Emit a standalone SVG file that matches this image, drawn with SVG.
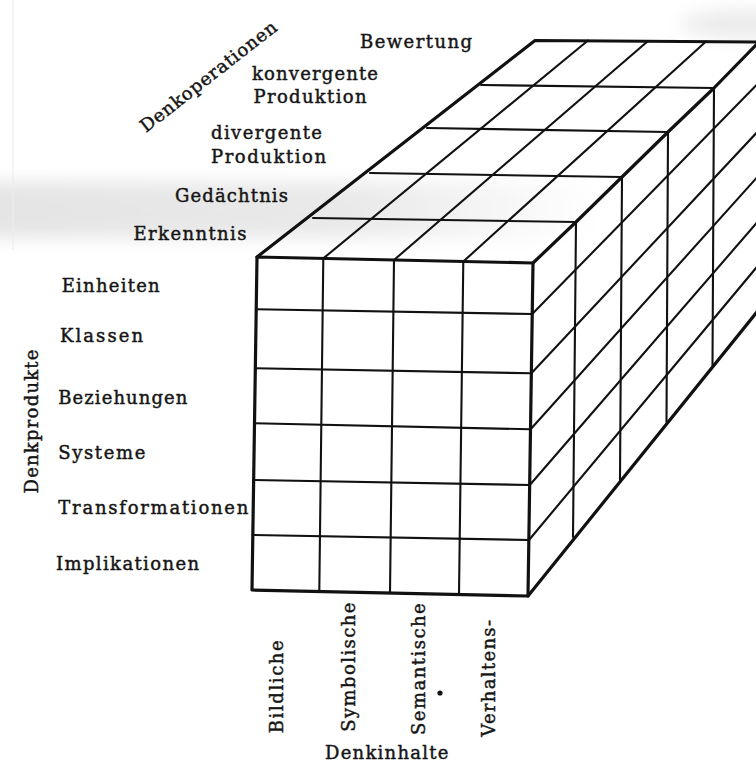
<svg xmlns="http://www.w3.org/2000/svg" width="756" height="765" viewBox="0 0 756 765">
  <defs>
    <filter id="soft" x="-50%" y="-50%" width="200%" height="200%">
      <feGaussianBlur stdDeviation="9"/>
    </filter>
    <linearGradient id="tone" x1="0" y1="0" x2="1" y2="0">
      <stop offset="0" stop-color="#e4e4e4"/>
      <stop offset="0.6" stop-color="#e9e9e9"/>
      <stop offset="1" stop-color="#ffffff"/>
    </linearGradient>
  </defs>
  <style>
    .edge{stroke:#111;stroke-width:3.2;fill:none;stroke-linecap:round;stroke-linejoin:round}
    .grid{stroke:#111;stroke-width:2.1;fill:none;stroke-linecap:round}
    .lbl{font-family:"DejaVu Serif","Liberation Serif",serif;font-size:18px;fill:#151515;stroke:#151515;stroke-width:0.45}
  </style>

  <rect width="756" height="765" fill="#fff"/>

  <!-- greyish paper tone -->
  <g id="paper-shading" filter="url(#soft)">
    <rect x="-20" y="182" width="620" height="56" fill="url(#tone)"/>
    <ellipse cx="750" cy="24" rx="70" ry="15" fill="#ebebeb"/>
  </g>
  <line x1="13" y1="0" x2="13" y2="250" stroke="#ededed" stroke-width="1.2"/>

  <!-- Guilford cube: grid lines -->
  <g id="connectors">
    <!-- front face: 6 product rows x 4 content columns -->
    <g id="front-face">
      <polygon class="edge" points="257,257 533,263 528,596 252,590"/>
      <line class="grid" x1="256.2" y1="309.3" x2="532.2" y2="314"/>
      <line class="grid" x1="255.3" y1="368.3" x2="531.4" y2="373.3"/>
      <line class="grid" x1="254.5" y1="423.3" x2="530.6" y2="429.3"/>
      <line class="grid" x1="253.7" y1="480" x2="529.8" y2="485"/>
      <line class="grid" x1="252.8" y1="535" x2="529" y2="540"/>
      <line class="grid" x1="323.3" y1="258.4" x2="319.3" y2="591.5"/>
      <line class="grid" x1="394" y1="260" x2="390" y2="593"/>
      <line class="grid" x1="463.3" y1="261.5" x2="459" y2="594.5"/>
    </g>

    <!-- top face: 5 operation rows in depth -->
    <g id="top-face">
      <polyline class="edge" points="257,257 535,40.5 759,42"/>
      <polyline class="edge" points="533,263 576,222 622,177 668,132 714,88 759,42"/>
      <line class="grid" x1="313" y1="218" x2="576" y2="222"/>
      <line class="grid" x1="370" y1="173" x2="622" y2="177"/>
      <line class="grid" x1="427" y1="128" x2="668" y2="132"/>
      <line class="grid" x1="481" y1="85" x2="714" y2="88"/>
      <line class="grid" x1="323.3" y1="258.4" x2="588" y2="40.5"/>
      <line class="grid" x1="394" y1="260" x2="648" y2="41"/>
      <line class="grid" x1="463.3" y1="261.5" x2="706" y2="41.5"/>
    </g>

    <!-- right side face -->
    <g id="side-face">
      <line class="edge" x1="528" y1="596" x2="758.5" y2="310"/>
      <line class="edge" x1="759" y1="42" x2="758.5" y2="310"/>
      <line class="grid" x1="576" y1="222" x2="573" y2="537"/>
      <line class="grid" x1="622" y1="177" x2="620" y2="480"/>
      <line class="grid" x1="668" y1="132" x2="666.5" y2="422"/>
      <line class="grid" x1="714" y1="88" x2="712.5" y2="365"/>
      <line class="grid" x1="532.2" y1="314" x2="758.5" y2="83"/>
      <line class="grid" x1="531.4" y1="373.3" x2="758.5" y2="130.7"/>
      <line class="grid" x1="530.6" y1="429.3" x2="758.5" y2="175.7"/>
      <line class="grid" x1="529.8" y1="485" x2="758.5" y2="220.8"/>
      <line class="grid" x1="529" y1="540" x2="758.5" y2="265"/>
    </g>
  </g>

  <!-- axis: Denkoperationen -->
  <g id="operations">
    <text class="lbl" transform="translate(146,133) rotate(-38)" textLength="168">Denkoperationen</text>
    <text class="lbl" x="360" y="48" textLength="112">Bewertung</text>
    <text class="lbl" x="252" y="79.5" textLength="126">konvergente</text>
    <text class="lbl" x="253.5" y="103" textLength="113">Produktion</text>
    <text class="lbl" x="211" y="139" textLength="111">divergente</text>
    <text class="lbl" x="211" y="163" textLength="115">Produktion</text>
    <text class="lbl" x="175" y="202" textLength="113">Gedächtnis</text>
    <text class="lbl" x="133.5" y="239.5" textLength="113">Erkenntnis</text>
  </g>

  <!-- axis: Denkprodukte -->
  <g id="products">
    <text class="lbl" transform="translate(37.5,493.5) rotate(-90)" textLength="144">Denkprodukte</text>
    <text class="lbl" x="61.7" y="292" textLength="98">Einheiten</text>
    <text class="lbl" x="60" y="342" textLength="83">Klassen</text>
    <text class="lbl" x="58.3" y="403.5" textLength="129">Beziehungen</text>
    <text class="lbl" x="58.3" y="459" textLength="87">Systeme</text>
    <text class="lbl" x="58.3" y="513.5" textLength="190">Transformationen</text>
    <text class="lbl" x="56" y="569.5" textLength="143">Implikationen</text>
  </g>

  <!-- axis: Denkinhalte -->
  <g id="contents">
    <text class="lbl" transform="translate(282.7,733.3) rotate(-90)" textLength="93">Bildliche</text>
    <text class="lbl" transform="translate(355,731.7) rotate(-90)" textLength="129">Symbolische</text>
    <text class="lbl" transform="translate(425,735) rotate(-90)" textLength="131.7">Semantische</text>
    <text class="lbl" transform="translate(495,736.7) rotate(-90)" textLength="116.7">Verhaltens-</text>
    <text class="lbl" x="325" y="758.5" textLength="123.3">Denkinhalte</text>
  </g>

  <circle cx="440" cy="693" r="2.6" fill="#111"/>
</svg>
